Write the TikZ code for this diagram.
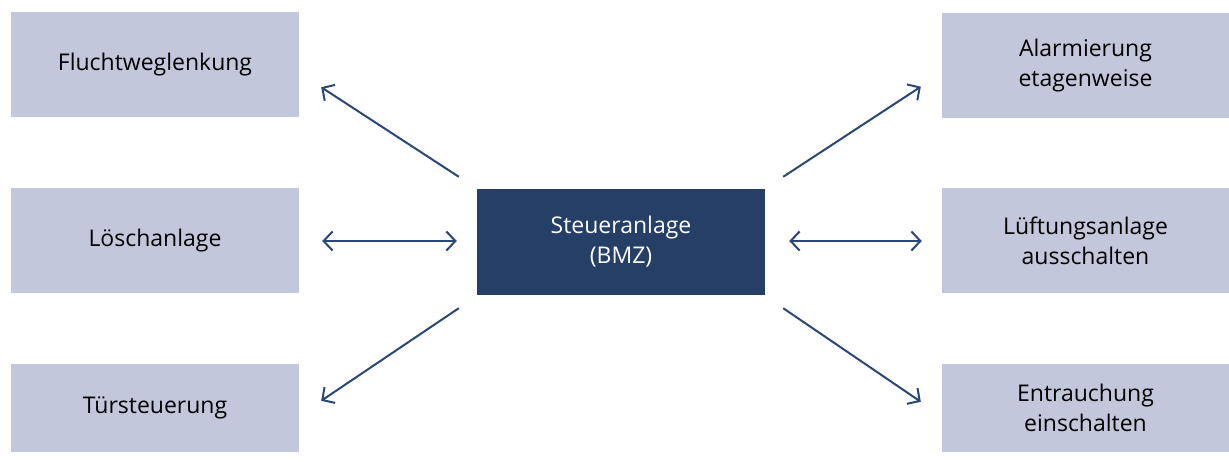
\documentclass[tikz,border=0pt]{standalone}
\usepackage{fontspec}
\setmainfont{Open Sans}
\usetikzlibrary{arrows.meta,calc}
\definecolor{boxlight}{HTML}{C2C7DB}
\definecolor{boxdark}{HTML}{253F67}
\definecolor{arrowblue}{HTML}{2B4775}
\begin{document}
\begin{tikzpicture}[x=1pt,y=-1pt,
  side/.style={rectangle,fill=boxlight,minimum width=288pt,minimum height=105pt,inner sep=0pt,align=center,font=\fontsize{23}{30}\selectfont,text=black},
  centre/.style={rectangle,fill=boxdark,minimum width=288pt,minimum height=106pt,inner sep=0pt,align=center,font=\fontsize{23}{30}\selectfont,text=white},
  tip/.style={Straight Barb[length=9pt,width=19pt,line width=2pt]},
  arr/.style={draw=arrowblue,line width=2pt,-{Straight Barb[length=9pt,width=19pt,line width=2pt]}},
  darr/.style={draw=arrowblue,line width=2pt,{Straight Barb[length=9pt,width=19pt,line width=2pt]}-{Straight Barb[length=9pt,width=19pt,line width=2pt]}}]
\useasboundingbox (0,0) rectangle (1229,462);
\node[side] (L1) at (155,64.5) {Fluchtweglenkung};
\node[side] (L2) at (155,241) {Löschanlage};
\node[side,minimum height=88pt] (L3) at (155,408) {Türsteuerung};
\node[side,minimum width=287pt] (R1) at (1085.5,66) {Alarmierung\\etagenweise};
\node[side,minimum width=287pt] (R2) at (1085.5,241) {Lüftungsanlage\\ausschalten};
\node[side,minimum width=287pt,minimum height=88pt] (R3) at (1085.5,408) {Entrauchung\\einschalten};
\node[centre] (C) at (621,242) {Steueranlage\\(BMZ)};
\draw[arr] ($(C.north west)+(-18,-12)$) -- ($(L1.south east)+(22,-30)$);
\draw[darr] ($(L2.east)+(23,0)$) -- ($(C.west)+(-20,-1)$);
\draw[arr] ($(C.south west)+(-18,13)$) -- ($(L3.north east)+(22,37)$);
\draw[arr] ($(C.north east)+(18,-12)$) -- ($(R1.south west)+(-21,-32)$);
\draw[darr] ($(C.east)+(24,-1)$) -- ($(R2.west)+(-20,0)$);
\draw[arr] ($(C.south east)+(18,13)$) -- ($(R3.north west)+(-21,38)$);
\end{tikzpicture}
\end{document}
